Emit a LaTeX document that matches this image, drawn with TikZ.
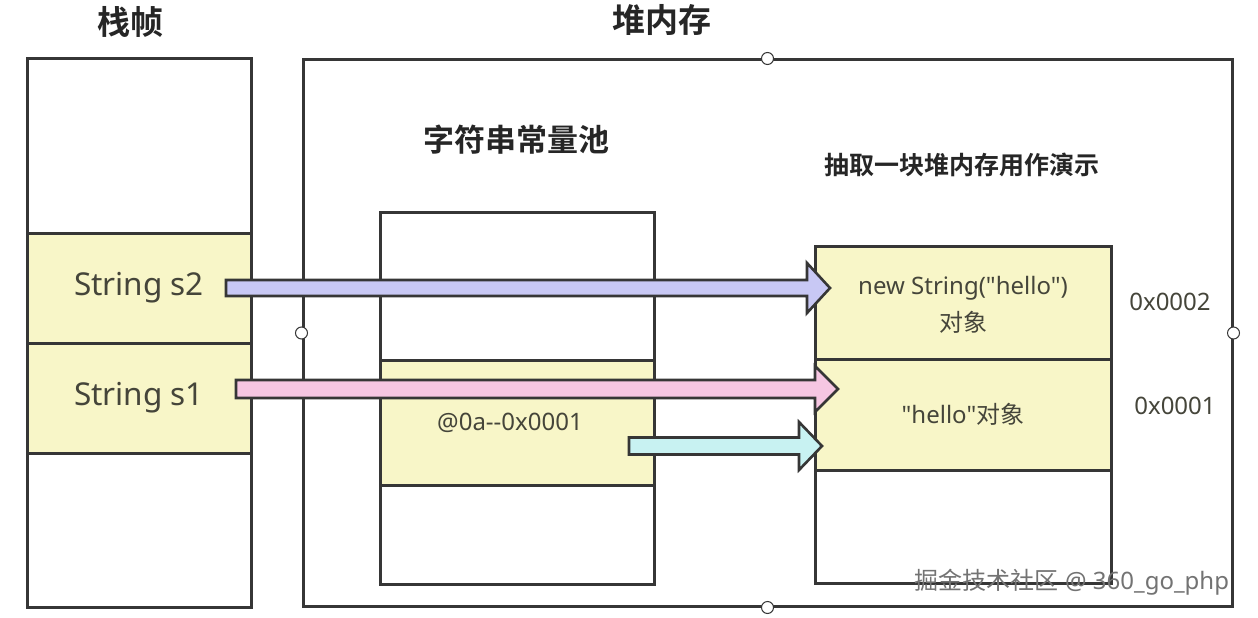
\documentclass[tikz,border=0pt]{standalone}
\usepackage{fontspec}
\setmainfont{Noto Sans}[Ligatures=TeXOff]
\newfontfamily\cjk{Noto Sans CJK SC}
\newfontfamily\cjkb{Noto Sans CJK SC Bold}
\definecolor{cellyellow}{HTML}{F8F6C8}
\definecolor{boxline}{HTML}{363636}
\definecolor{txtgray}{HTML}{45453A}
\definecolor{arrblue}{HTML}{C8C8F4}
\definecolor{arrpink}{HTML}{F6C6E2}
\definecolor{arrcyan}{HTML}{C8F2F2}
\tikzset{
  frame/.style={draw=boxline, line width=3pt, fill=white, inner sep=0pt},
  cell/.style={draw=boxline, line width=3pt, fill=cellyellow, inner sep=0pt, text=txtgray, align=center},
  title/.style={font=\cjkb\fontsize{33}{38}\selectfont, text=black!85},
  lbl/.style={font=\fontsize{24}{28}\selectfont, text=txtgray, align=center},
  knob/.style={circle, draw=boxline, line width=1pt, fill=white, minimum size=12pt, inner sep=0pt},
  fatarrow/.style={draw=boxline, line width=2.6pt, line join=miter},
}
% fat arrow: #1 start coord, #2 end coord, #3 half shaft, #4 half head, #5 head length, #6 colour
\newcommand{\fatarr}[6]{%
  \path[fatarrow, fill=#6] let \p1=(#1), \p2=(#2) in
    (\x1,\y1+#3) -- (\x2-#5,\y1+#3) -- (\x2-#5,\y1+#4) -- (\x2,\y1) --
    (\x2-#5,\y1-#4) -- (\x2-#5,\y1-#3) -- (\x1,\y1-#3) -- cycle;}
\usetikzlibrary{calc}
\begin{document}
\begin{tikzpicture}[x=1pt,y=-1pt]
\useasboundingbox (0,0) rectangle (1258,618);
\fill[white] (0,0) rectangle (1258,618);

% titles
\node[title] (tstack) at (130,22) {栈帧};
\node[title] (theap) at (662,20) {堆内存};

% stack frame
\node[frame, minimum width=224pt, minimum height=548pt] (stack) at (139,333) {};
\node[cell, minimum width=224pt, minimum height=110pt, font=\fontsize{31.5}{36}\selectfont] (s2) at (139,288) {String s2};
\node[cell, minimum width=224pt, minimum height=110pt, font=\fontsize{31.5}{36}\selectfont] (s1) at (139,398) {String s1};

% heap outer
\node[frame, minimum width=929pt, minimum height=546pt] (heap) at (767.5,333) {};
\node[knob] (k1) at (heap.north) {};
\node[knob] (k2) at (heap.south) {};
\node[knob] (k3) at (heap.west) {};
\node[knob] (k4) at (heap.east) {};

% string constant pool
\node[title, font=\cjkb\fontsize{31}{36}\selectfont] (tpool) at (516,140) {字符串常量池};
\node[frame, minimum width=274pt, minimum height=372pt] (pool) at (517,398) {};
\node[cell, minimum width=274pt, minimum height=125pt] (pcell) at (517,422.5) {};
\node[lbl] (ptext) at (510,423) {@0a--0x0001};

% heap demo region
\node[title, font=\cjkb\fontsize{25}{30}\selectfont] (tdemo) at (962,165) {抽取一块堆内存用作演示};
\node[frame, minimum width=296pt, minimum height=337pt] (obj) at (963,414.5) {};
\node[cell, minimum width=296pt, minimum height=113pt] (o2) at (963,302.5) {};
\node[lbl] (o2t) at (963,288) {new String("hello")};
\node[lbl, font=\cjk\fontsize{24}{28}\selectfont] (o2c) at (963,322) {对象};
\node[cell, minimum width=296pt, minimum height=111pt, font=\fontsize{24}{28}\selectfont] (o1) at (963,414.5) {"hello"{\cjk 对象}};
\node[lbl] (a2) at (1170,302) {0x0002};
\node[lbl] (a1) at (1175,406) {0x0001};

% arrow end points
\coordinate (b1) at (226,288);
\coordinate (b2) at (830,288);
\coordinate (p1) at (236,389);
\coordinate (p2) at (838,389);
\coordinate (c1) at (629,446);
\coordinate (c2) at (822,446);

\fatarr{b1}{b2}{8}{25}{23}{arrblue}
\fatarr{p1}{p2}{9}{23}{23}{arrpink}
\fatarr{c1}{c2}{8.5}{24}{23}{arrcyan}

% watermark
\node[font=\fontsize{24}{28}\selectfont, text=black!55] (wm) at (1072,582) {{\cjk 掘金技术社区} @ 360\_go\_php};
\end{tikzpicture}
\end{document}
